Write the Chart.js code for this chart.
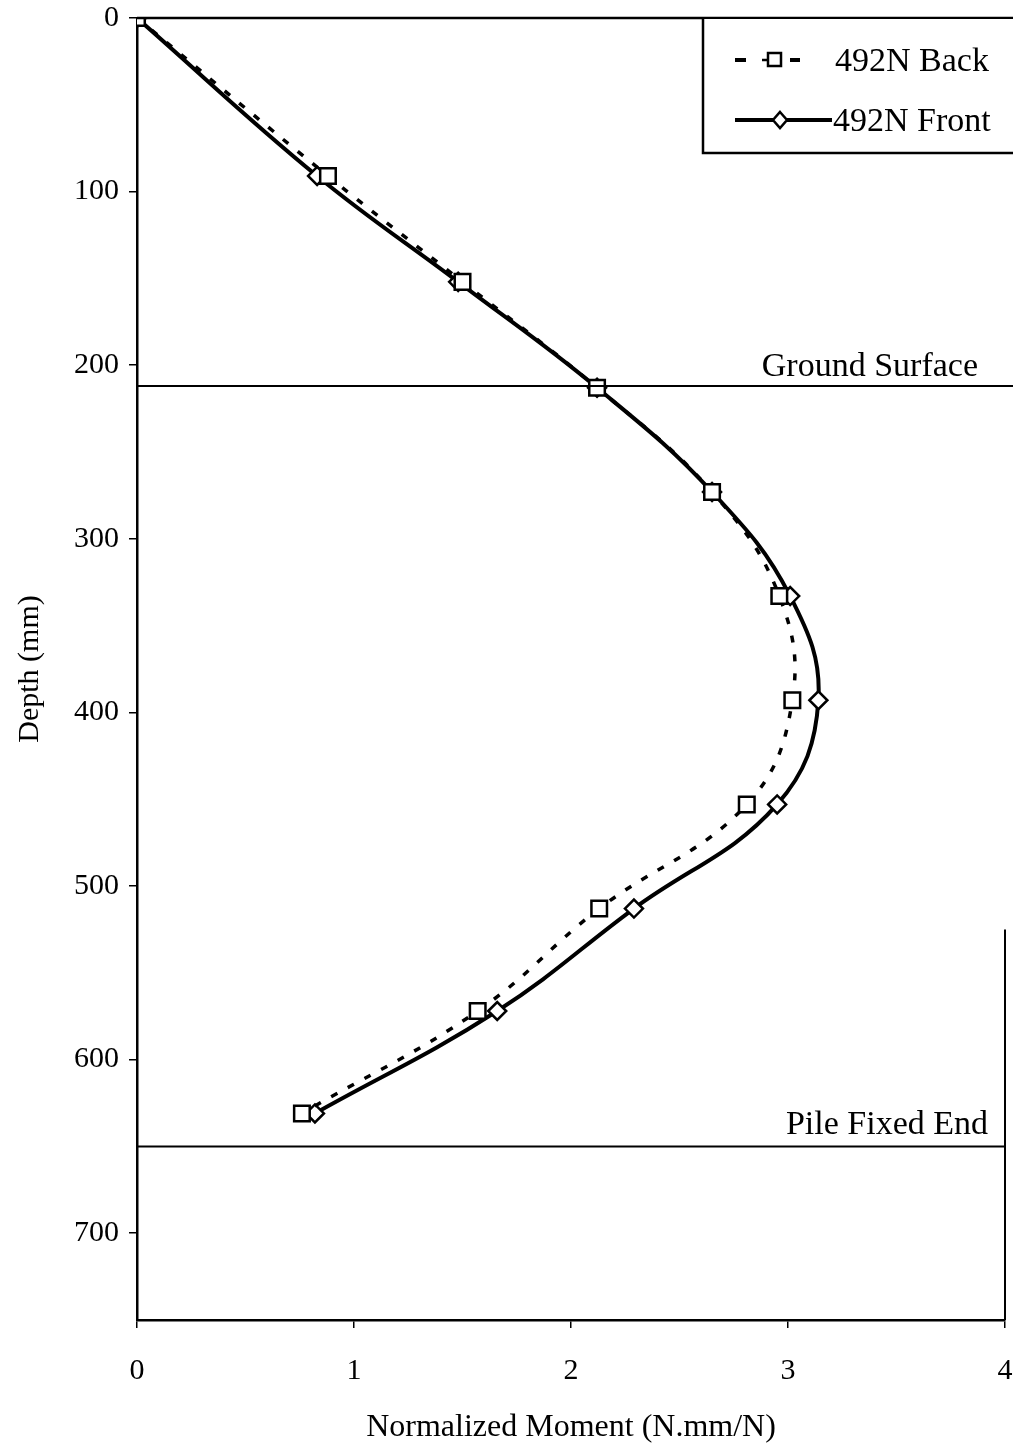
<!DOCTYPE html>
<html>
<head>
<meta charset="utf-8">
<title>Normalized Moment vs Depth</title>
<script src="https://cdn.jsdelivr.net/npm/chart.js@4.4.1/dist/chart.umd.min.js"></script>
<style>
    html, body { margin: 0; padding: 0; background: #fff; }
    #wrap { width: 1013px; height: 1447px; }
</style>
</head>
<body>
<div id="wrap"><canvas id="momentChart" width="1013" height="1447"></canvas></div>
<script>
// depth of each gauge along the pile (mm)
const depths = [0, 91, 152, 213, 273, 333, 393, 453, 513, 572, 631];
// normalized moment (N.mm/N)
const backMoment = [0, 0.88, 1.50, 2.12, 2.65, 2.96, 3.02, 2.81, 2.13, 1.57, 0.76];
const frontMoment = [0, 0.83, 1.48, 2.12, 2.65, 3.01, 3.14, 2.95, 2.29, 1.66, 0.82];
const seriesNames = ['492N Back', '492N Front'];
const xTicks = [0, 1, 2, 3, 4];
const yTicks = [0, 100, 200, 300, 400, 500, 600, 700];
const groundDepth = 212;
const fixedEndDepth = 650;

const serif = '"Liberation Serif", "Times New Roman", serif';

function toPoints(xs) {
    return xs.map((v, i) => ({ x: v, y: depths[i] }));
}

// reference lines, frame pieces and the boxed legend
const extras = {
    id: 'extras',
    afterDatasetsDraw(chart) {
        const ctx = chart.ctx;
        const area = chart.chartArea;
        const yScale = chart.scales.y;
        const W = chart.width;
        ctx.save();
        ctx.strokeStyle = '#000';
        ctx.fillStyle = '#000';

        // top frame line
        ctx.lineWidth = 2.5;
        ctx.beginPath();
        ctx.moveTo(area.left, area.top);
        ctx.lineTo(W, area.top);
        ctx.stroke();

        // ground surface
        const gy = yScale.getPixelForValue(groundDepth);
        ctx.lineWidth = 2;
        ctx.beginPath();
        ctx.moveTo(area.left, gy);
        ctx.lineTo(W, gy);
        ctx.stroke();

        // pile fixed end
        const py = yScale.getPixelForValue(fixedEndDepth);
        ctx.beginPath();
        ctx.moveTo(area.left, py);
        ctx.lineTo(area.right, py);
        ctx.stroke();

        // right frame, lower part
        ctx.beginPath();
        ctx.moveTo(area.right, yScale.getPixelForValue(525));
        ctx.lineTo(area.right, area.bottom);
        ctx.stroke();

        ctx.font = '34px ' + serif;
        ctx.textAlign = 'right';
        ctx.textBaseline = 'alphabetic';
        ctx.fillText('Ground Surface', 978, gy - 10);
        ctx.fillText('Pile Fixed End', 988, py - 12);

        // legend box
        ctx.lineWidth = 2.5;
        ctx.fillStyle = '#fff';
        ctx.fillRect(703, area.top + 1, W - 703, 134);
        ctx.beginPath();
        ctx.moveTo(W + 5, 153);
        ctx.lineTo(703, 153);
        ctx.lineTo(703, area.top);
        ctx.stroke();

        // back sample: dash, square, dash
        ctx.lineWidth = 4;
        ctx.beginPath();
        ctx.moveTo(735, 60); ctx.lineTo(746, 60);
        ctx.moveTo(790, 60); ctx.lineTo(800, 60);
        ctx.stroke();
        ctx.lineWidth = 2.5;
        ctx.beginPath();
        ctx.rect(768, 53, 13, 13);
        ctx.fillStyle = '#fff';
        ctx.fill();
        ctx.stroke();
        ctx.beginPath();
        ctx.moveTo(762, 60); ctx.lineTo(768, 60);
        ctx.stroke();

        // front sample: line with diamond
        ctx.lineWidth = 4;
        ctx.beginPath();
        ctx.moveTo(735, 120); ctx.lineTo(832, 120);
        ctx.stroke();
        ctx.lineWidth = 2.5;
        ctx.beginPath();
        ctx.moveTo(780, 112); ctx.lineTo(787, 120); ctx.lineTo(780, 128); ctx.lineTo(773, 120);
        ctx.closePath();
        ctx.fillStyle = '#fff';
        ctx.fill();
        ctx.stroke();

        ctx.fillStyle = '#000';
        ctx.textAlign = 'left';
        ctx.textBaseline = 'middle';
        ctx.font = '34px ' + serif;
        ctx.fillText(seriesNames[0], 835, 62);
        ctx.fillText(seriesNames[1], 833, 122);
        ctx.restore();
    }
};

const ctx = document.getElementById('momentChart').getContext('2d');
new Chart(ctx, {
    type: 'scatter',
    data: {
        datasets: [{
            label: seriesNames[0],
            data: toPoints(backMoment),
            showLine: true,
            borderColor: '#000',
            borderWidth: 3.5,
            borderDash: [7, 12],
            tension: 0.4,
            pointStyle: 'rect',
            pointRadius: 11,
            pointBorderWidth: 2.5,
            pointBorderColor: '#000',
            pointBackgroundColor: '#fff'
        }, {
            label: seriesNames[1],
            data: toPoints(frontMoment),
            showLine: true,
            borderColor: '#000',
            borderWidth: 4,
            tension: 0.4,
            pointStyle: 'rectRot',
            pointRadius: 9,
            pointBorderWidth: 2.5,
            pointBorderColor: '#000',
            pointBackgroundColor: '#fff'
        }]
    },
    options: {
        responsive: false,
        animation: false,
        devicePixelRatio: 1,
        layout: { autoPadding: false, padding: { top: 18, right: 8, left: 0, bottom: 0 } },
        plugins: {
            legend: { display: false },
            tooltip: { enabled: false }
        },
        scales: {
            x: {
                type: 'linear',
                min: 0,
                max: 4,
                afterFit(scale) {
                    scale.height = 127;
                    scale.paddingLeft = 0;
                    scale.paddingRight = 0;
                },
                afterBuildTicks(scale) { scale.ticks = xTicks.map(v => ({ value: v })); },
                ticks: {
                    color: '#000',
                    font: { family: serif, size: 30 },
                    padding: 25
                },
                grid: { drawOnChartArea: false, drawTicks: true, tickLength: 8, color: '#000', lineWidth: 1.5 },
                border: { display: true, color: '#000', width: 2.5 },
                title: {
                    display: true,
                    text: 'Normalized Moment (N.mm/N)',
                    color: '#000',
                    font: { family: serif, size: 32 },
                    padding: { top: 0, bottom: 0 }
                }
            },
            y: {
                type: 'linear',
                reverse: true,
                min: 0,
                max: 750,
                afterFit(scale) {
                    scale.width = 137;
                    scale.paddingTop = 0;
                    scale.paddingBottom = 0;
                },
                afterBuildTicks(scale) { scale.ticks = yTicks.map(v => ({ value: v })); },
                ticks: {
                    color: '#000',
                    font: { family: serif, size: 30 },
                    padding: 10
                },
                grid: { drawOnChartArea: false, drawTicks: true, tickLength: 8, color: '#000', lineWidth: 1.5 },
                border: { display: true, color: '#000', width: 2.5 },
                title: {
                    display: true,
                    text: 'Depth (mm)',
                    color: '#000',
                    font: { family: serif, size: 30 },
                    padding: { top: 12, bottom: 0 }
                }
            }
        }
    },
    plugins: [extras]
});
</script>
</body>
</html>
